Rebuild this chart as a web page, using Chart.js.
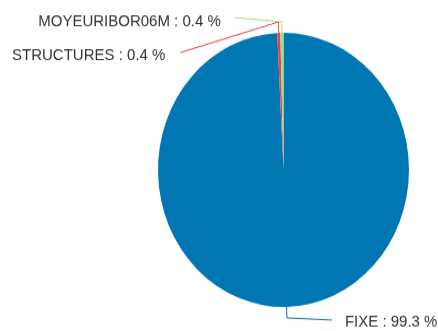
<!DOCTYPE html>
<html>
<head>
<meta charset="utf-8">
<script src="https://cdn.jsdelivr.net/npm/chart.js@4/dist/chart.umd.min.js"></script>
<style>
  html, body { margin: 0; padding: 0; background: #fff; overflow: hidden; }
  #pie-chart { display: block; width: 438px; height: 331px; }
</style>
</head>
<body>
<!-- drawn at 438x303 and shown stretched to 438x331 -->
<canvas id="pie-chart" width="438" height="303" style="width:438px;height:331px"></canvas>
<script>
const labels = ['FIXE', 'STRUCTURES', 'MOYEURIBOR06M'];
const values = [99.3, 0.4, 0.4];
const colors = ['#0077b3', '#e8424a', '#9ce07c'];

// where each label sits relative to the elbow of its leader line
const labelOffsets = [
    { dx: 45, dy: 2, gap: 13, align: 'left', ty: 1.5 },
    { dx: -98, dy: 28, gap: 15, align: 'right', ty: 3 },
    { dx: -47, dy: -4, gap: 14, align: 'right', ty: 4 }
];

const outLabels = {
    id: 'outLabels',
    afterDatasetsDraw(chart) {
        const ctx = chart.ctx;
        const arcs = chart.getDatasetMeta(0).data;
        ctx.save();
        ctx.font = '15px "Liberation Sans", Arial, sans-serif';
        ctx.textBaseline = 'middle';
        arcs.forEach((arc, i) => {
            const p = arc.getProps(['x', 'y', 'startAngle', 'endAngle', 'outerRadius'], true);
            const mid = (p.startAngle + p.endAngle) / 2;
            const off = labelOffsets[i];
            const x0 = p.x + Math.cos(mid) * p.outerRadius;
            const y0 = p.y + Math.sin(mid) * p.outerRadius;
            const x1 = p.x + Math.cos(mid) * (p.outerRadius + 10);
            const y1 = p.y + Math.sin(mid) * (p.outerRadius + 10);
            const x2 = x1 + off.dx;
            const y2 = y1 + off.dy;

            ctx.strokeStyle = colors[i];
            ctx.lineWidth = 1;
            ctx.beginPath();
            ctx.moveTo(x0, y0);
            ctx.lineTo(x1, y1);
            ctx.lineTo(x2, y2);
            ctx.stroke();

            ctx.fillStyle = '#333';
            ctx.textAlign = off.align;
            const tx = off.align === 'left' ? x2 + off.gap : x2 - off.gap;
            ctx.fillText(labels[i] + ' : ' + values[i].toFixed(1) + ' %', tx, y2 + off.ty);
        });
        ctx.restore();
    }
};

const ctx = document.getElementById('pie-chart').getContext('2d');

const myPieChart = new Chart(ctx, {
    type: 'pie',
    data: {
        labels: labels,
        datasets: [{
            data: values,
            backgroundColor: colors,
            borderWidth: 0
        }]
    },
    options: {
        responsive: false,
        animation: false,
        layout: {
            padding: { left: 158, right: 29, top: 30, bottom: 22 }
        },
        plugins: {
            legend: { display: false },
            tooltip: { enabled: false }
        }
    },
    plugins: [outLabels]
});
</script>
</body>
</html>
